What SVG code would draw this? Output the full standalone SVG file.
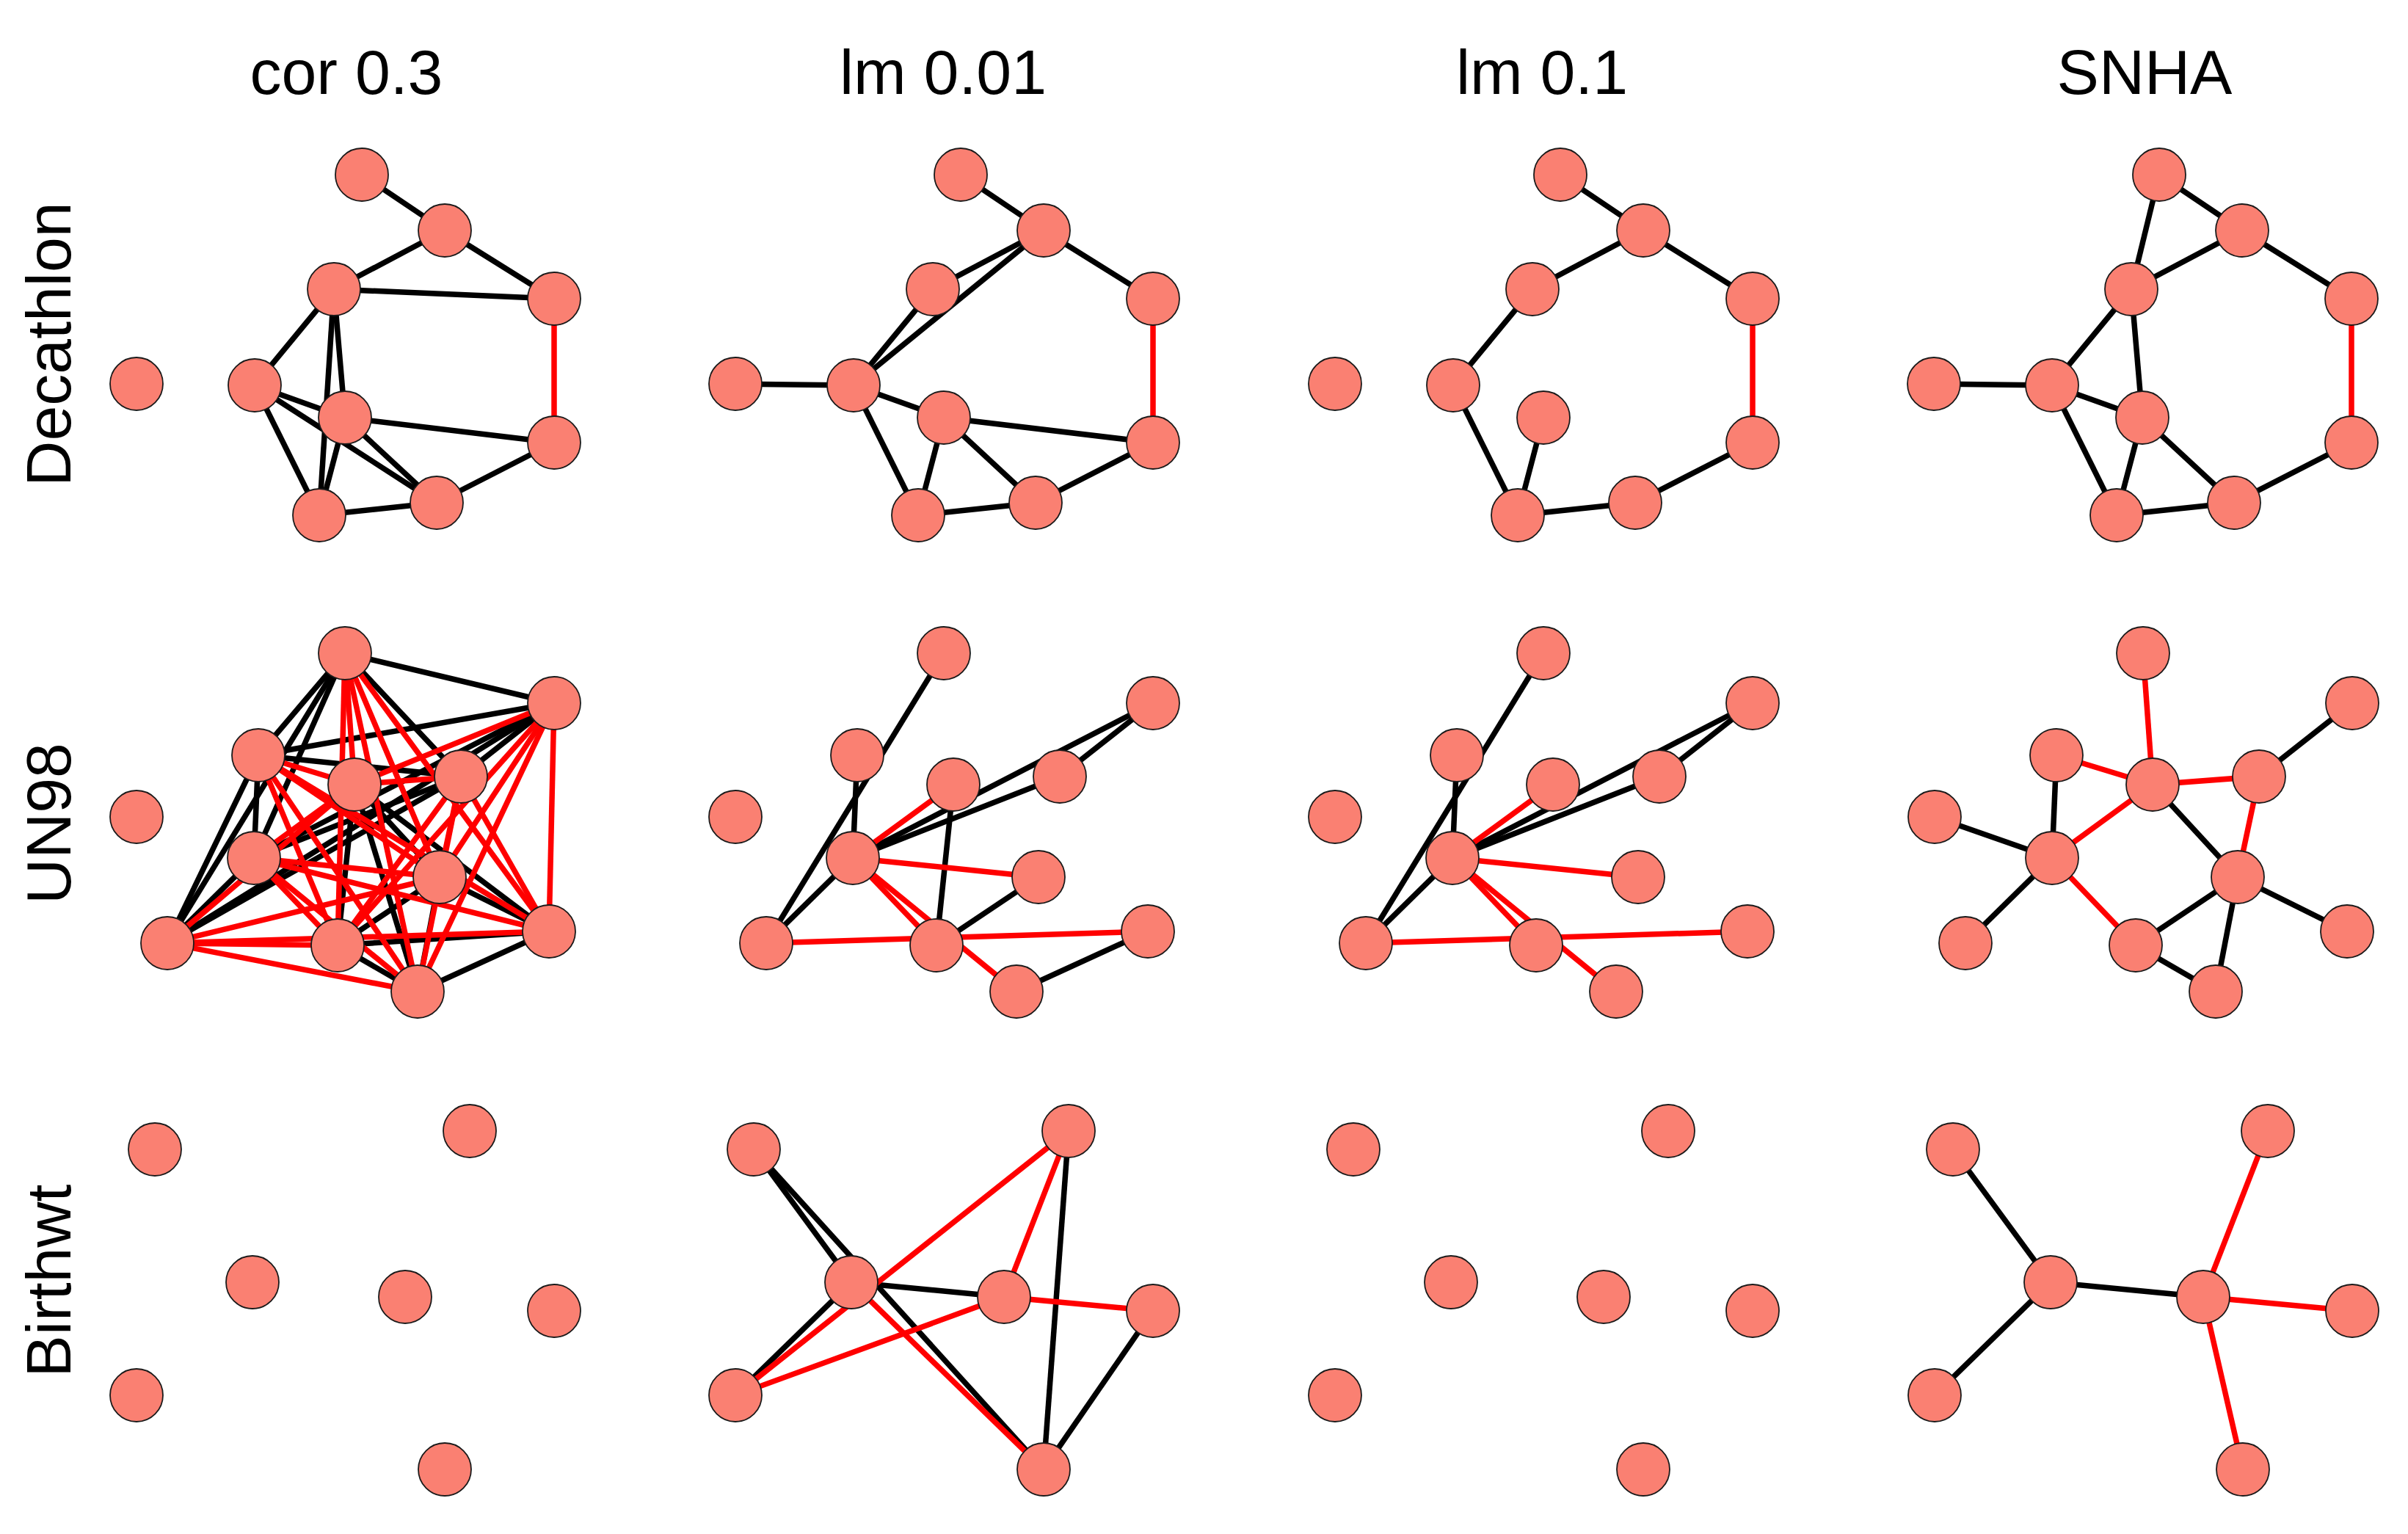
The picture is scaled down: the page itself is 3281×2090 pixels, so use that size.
<svg xmlns="http://www.w3.org/2000/svg" width="3281" height="2090" viewBox="0 0 3281 2090">
<style>
text{font-family:"Liberation Sans",Arial,sans-serif;font-size:86px;fill:#000}
.k line{stroke:#000;stroke-width:7.5}
.r line{stroke:#FF0000;stroke-width:7.5}
circle{fill:#FA8072;stroke:#1a1a1a;stroke-width:1.8}
</style>
<rect width="3281" height="2090" fill="#fff"/>
<g id="titles">
<text x="472" y="128" text-anchor="middle">cor 0.3</text>
<text x="1285" y="128" text-anchor="middle">lm 0.01</text>
<text x="2101" y="128" text-anchor="middle">lm 0.1</text>
<text x="2922" y="128" text-anchor="middle">SNHA</text>
<text transform="translate(96,469) rotate(-90)" text-anchor="middle">Decathlon</text>
<text transform="translate(96,1122) rotate(-90)" text-anchor="middle">UN98</text>
<text transform="translate(96,1745) rotate(-90)" text-anchor="middle">Birthwt</text>
</g>

<!-- Row 1: Decathlon -->
<g id="dec-cor">
<g id="dec-cor-edges">
<g class="k">
<line x1="493" y1="238" x2="606" y2="314"/><line x1="606" y1="314" x2="455" y2="394"/><line x1="606" y1="314" x2="755" y2="407"/><line x1="455" y1="394" x2="755" y2="407"/><line x1="455" y1="394" x2="347" y2="525"/><line x1="455" y1="394" x2="435" y2="702"/><line x1="455" y1="394" x2="470" y2="569"/><line x1="347" y1="525" x2="470" y2="569"/><line x1="347" y1="525" x2="595" y2="685"/><line x1="347" y1="525" x2="435" y2="702"/><line x1="470" y1="569" x2="755" y2="603"/><line x1="470" y1="569" x2="435" y2="702"/><line x1="470" y1="569" x2="595" y2="685"/><line x1="435" y1="702" x2="595" y2="685"/><line x1="755" y1="603" x2="595" y2="685"/>
</g>
<g class="r"><line x1="755" y1="407" x2="755" y2="603"/></g>
</g>
<g id="dec-cor-A"><circle cx="493" cy="238" r="36"/></g>
<g id="dec-cor-B"><circle cx="606" cy="314" r="36"/></g>
<g id="dec-cor-C"><circle cx="455" cy="394" r="36"/></g>
<g id="dec-cor-D"><circle cx="755" cy="407" r="36"/></g>
<g id="dec-cor-E"><circle cx="186" cy="523" r="36"/></g>
<g id="dec-cor-F"><circle cx="347" cy="525" r="36"/></g>
<g id="dec-cor-G"><circle cx="470" cy="569" r="36"/></g>
<g id="dec-cor-H"><circle cx="755" cy="603" r="36"/></g>
<g id="dec-cor-I"><circle cx="435" cy="702" r="36"/></g>
<g id="dec-cor-J"><circle cx="595" cy="685" r="36"/></g>
</g>

<g id="dec-lm001" transform="translate(816,0)">
<g id="dec-lm001-edges">
<g class="k">
<line x1="493" y1="238" x2="606" y2="314"/><line x1="606" y1="314" x2="455" y2="394"/><line x1="606" y1="314" x2="347" y2="525"/><line x1="606" y1="314" x2="755" y2="407"/><line x1="455" y1="394" x2="347" y2="525"/><line x1="186" y1="523" x2="347" y2="525"/><line x1="347" y1="525" x2="470" y2="569"/><line x1="347" y1="525" x2="435" y2="702"/><line x1="470" y1="569" x2="755" y2="603"/><line x1="470" y1="569" x2="435" y2="702"/><line x1="470" y1="569" x2="595" y2="685"/><line x1="435" y1="702" x2="595" y2="685"/><line x1="755" y1="603" x2="595" y2="685"/>
</g>
<g class="r"><line x1="755" y1="407" x2="755" y2="603"/></g>
</g>
<g id="dec-lm001-A"><circle cx="493" cy="238" r="36"/></g>
<g id="dec-lm001-B"><circle cx="606" cy="314" r="36"/></g>
<g id="dec-lm001-C"><circle cx="455" cy="394" r="36"/></g>
<g id="dec-lm001-D"><circle cx="755" cy="407" r="36"/></g>
<g id="dec-lm001-E"><circle cx="186" cy="523" r="36"/></g>
<g id="dec-lm001-F"><circle cx="347" cy="525" r="36"/></g>
<g id="dec-lm001-G"><circle cx="470" cy="569" r="36"/></g>
<g id="dec-lm001-H"><circle cx="755" cy="603" r="36"/></g>
<g id="dec-lm001-I"><circle cx="435" cy="702" r="36"/></g>
<g id="dec-lm001-J"><circle cx="595" cy="685" r="36"/></g>
</g>

<g id="dec-lm01" transform="translate(1633,0)">
<g id="dec-lm01-edges">
<g class="k">
<line x1="493" y1="238" x2="606" y2="314"/><line x1="606" y1="314" x2="455" y2="394"/><line x1="606" y1="314" x2="755" y2="407"/><line x1="455" y1="394" x2="347" y2="525"/><line x1="347" y1="525" x2="435" y2="702"/><line x1="470" y1="569" x2="435" y2="702"/><line x1="435" y1="702" x2="595" y2="685"/><line x1="755" y1="603" x2="595" y2="685"/>
</g>
<g class="r"><line x1="755" y1="407" x2="755" y2="603"/></g>
</g>
<g id="dec-lm01-A"><circle cx="493" cy="238" r="36"/></g>
<g id="dec-lm01-B"><circle cx="606" cy="314" r="36"/></g>
<g id="dec-lm01-C"><circle cx="455" cy="394" r="36"/></g>
<g id="dec-lm01-D"><circle cx="755" cy="407" r="36"/></g>
<g id="dec-lm01-E"><circle cx="186" cy="523" r="36"/></g>
<g id="dec-lm01-F"><circle cx="347" cy="525" r="36"/></g>
<g id="dec-lm01-G"><circle cx="470" cy="569" r="36"/></g>
<g id="dec-lm01-H"><circle cx="755" cy="603" r="36"/></g>
<g id="dec-lm01-I"><circle cx="435" cy="702" r="36"/></g>
<g id="dec-lm01-J"><circle cx="595" cy="685" r="36"/></g>
</g>

<g id="dec-snha" transform="translate(2449,0)">
<g id="dec-snha-edges">
<g class="k">
<line x1="493" y1="238" x2="606" y2="314"/><line x1="493" y1="238" x2="455" y2="394"/><line x1="606" y1="314" x2="455" y2="394"/><line x1="606" y1="314" x2="755" y2="407"/><line x1="455" y1="394" x2="347" y2="525"/><line x1="455" y1="394" x2="470" y2="569"/><line x1="186" y1="523" x2="347" y2="525"/><line x1="347" y1="525" x2="470" y2="569"/><line x1="347" y1="525" x2="435" y2="702"/><line x1="470" y1="569" x2="435" y2="702"/><line x1="470" y1="569" x2="595" y2="685"/><line x1="435" y1="702" x2="595" y2="685"/><line x1="755" y1="603" x2="595" y2="685"/>
</g>
<g class="r"><line x1="755" y1="407" x2="755" y2="603"/></g>
</g>
<g id="dec-snha-A"><circle cx="493" cy="238" r="36"/></g>
<g id="dec-snha-B"><circle cx="606" cy="314" r="36"/></g>
<g id="dec-snha-C"><circle cx="455" cy="394" r="36"/></g>
<g id="dec-snha-D"><circle cx="755" cy="407" r="36"/></g>
<g id="dec-snha-E"><circle cx="186" cy="523" r="36"/></g>
<g id="dec-snha-F"><circle cx="347" cy="525" r="36"/></g>
<g id="dec-snha-G"><circle cx="470" cy="569" r="36"/></g>
<g id="dec-snha-H"><circle cx="755" cy="603" r="36"/></g>
<g id="dec-snha-I"><circle cx="435" cy="702" r="36"/></g>
<g id="dec-snha-J"><circle cx="595" cy="685" r="36"/></g>
</g>

<!-- Row 2: UN98 -->
<g id="un-cor">
<g id="un-cor-edges">
<g class="k">
<line x1="470" y1="890" x2="755" y2="958"/><line x1="470" y1="890" x2="352" y2="1029"/><line x1="470" y1="890" x2="628" y2="1058"/><line x1="470" y1="890" x2="346" y2="1169"/><line x1="470" y1="890" x2="228" y2="1285"/><line x1="755" y1="958" x2="352" y2="1029"/><line x1="755" y1="958" x2="628" y2="1058"/><line x1="755" y1="958" x2="346" y2="1169"/><line x1="755" y1="958" x2="228" y2="1285"/><line x1="352" y1="1029" x2="628" y2="1058"/><line x1="352" y1="1029" x2="346" y2="1169"/><line x1="352" y1="1029" x2="228" y2="1285"/><line x1="628" y1="1058" x2="346" y2="1169"/><line x1="628" y1="1058" x2="228" y2="1285"/><line x1="346" y1="1169" x2="228" y2="1285"/>
<line x1="483" y1="1069" x2="599" y2="1195"/><line x1="483" y1="1069" x2="460" y2="1288"/><line x1="483" y1="1069" x2="748" y2="1269"/><line x1="483" y1="1069" x2="569" y2="1351"/><line x1="599" y1="1195" x2="460" y2="1288"/><line x1="599" y1="1195" x2="748" y2="1269"/><line x1="599" y1="1195" x2="569" y2="1351"/><line x1="460" y1="1288" x2="748" y2="1269"/><line x1="460" y1="1288" x2="569" y2="1351"/><line x1="748" y1="1269" x2="569" y2="1351"/>
</g>
<g class="r">
<line x1="470" y1="890" x2="483" y2="1069"/><line x1="470" y1="890" x2="599" y2="1195"/><line x1="470" y1="890" x2="460" y2="1288"/><line x1="470" y1="890" x2="748" y2="1269"/><line x1="470" y1="890" x2="569" y2="1351"/>
<line x1="755" y1="958" x2="483" y2="1069"/><line x1="755" y1="958" x2="599" y2="1195"/><line x1="755" y1="958" x2="460" y2="1288"/><line x1="755" y1="958" x2="748" y2="1269"/><line x1="755" y1="958" x2="569" y2="1351"/>
<line x1="352" y1="1029" x2="483" y2="1069"/><line x1="352" y1="1029" x2="599" y2="1195"/><line x1="352" y1="1029" x2="460" y2="1288"/><line x1="352" y1="1029" x2="748" y2="1269"/><line x1="352" y1="1029" x2="569" y2="1351"/>
<line x1="628" y1="1058" x2="483" y2="1069"/><line x1="628" y1="1058" x2="599" y2="1195"/><line x1="628" y1="1058" x2="460" y2="1288"/><line x1="628" y1="1058" x2="748" y2="1269"/><line x1="628" y1="1058" x2="569" y2="1351"/>
<line x1="346" y1="1169" x2="483" y2="1069"/><line x1="346" y1="1169" x2="599" y2="1195"/><line x1="346" y1="1169" x2="460" y2="1288"/><line x1="346" y1="1169" x2="748" y2="1269"/><line x1="346" y1="1169" x2="569" y2="1351"/>
<line x1="228" y1="1285" x2="483" y2="1069"/><line x1="228" y1="1285" x2="599" y2="1195"/><line x1="228" y1="1285" x2="460" y2="1288"/><line x1="228" y1="1285" x2="748" y2="1269"/><line x1="228" y1="1285" x2="569" y2="1351"/>
</g>
</g>
<g id="un-cor-a"><circle cx="470" cy="890" r="36"/></g>
<g id="un-cor-b"><circle cx="755" cy="958" r="36"/></g>
<g id="un-cor-c"><circle cx="352" cy="1029" r="36"/></g>
<g id="un-cor-d"><circle cx="483" cy="1069" r="36"/></g>
<g id="un-cor-e"><circle cx="628" cy="1058" r="36"/></g>
<g id="un-cor-f"><circle cx="186" cy="1113" r="36"/></g>
<g id="un-cor-g"><circle cx="346" cy="1169" r="36"/></g>
<g id="un-cor-h"><circle cx="599" cy="1195" r="36"/></g>
<g id="un-cor-i"><circle cx="228" cy="1285" r="36"/></g>
<g id="un-cor-j"><circle cx="460" cy="1288" r="36"/></g>
<g id="un-cor-k"><circle cx="748" cy="1269" r="36"/></g>
<g id="un-cor-l"><circle cx="569" cy="1351" r="36"/></g>
</g>

<g id="un-lm001" transform="translate(816,0)">
<g id="un-lm001-edges">
<g class="k">
<line x1="470" y1="890" x2="228" y2="1285"/><line x1="352" y1="1029" x2="346" y2="1169"/><line x1="346" y1="1169" x2="228" y2="1285"/><line x1="346" y1="1169" x2="755" y2="958"/><line x1="346" y1="1169" x2="628" y2="1058"/><line x1="628" y1="1058" x2="755" y2="958"/><line x1="483" y1="1069" x2="460" y2="1288"/><line x1="599" y1="1195" x2="460" y2="1288"/><line x1="748" y1="1269" x2="569" y2="1351"/>
</g>
<g class="r">
<line x1="346" y1="1169" x2="483" y2="1069"/><line x1="346" y1="1169" x2="599" y2="1195"/><line x1="346" y1="1169" x2="460" y2="1288"/><line x1="346" y1="1169" x2="569" y2="1351"/><line x1="228" y1="1285" x2="748" y2="1269"/>
</g>
</g>
<g id="un-lm001-a"><circle cx="470" cy="890" r="36"/></g>
<g id="un-lm001-b"><circle cx="755" cy="958" r="36"/></g>
<g id="un-lm001-c"><circle cx="352" cy="1029" r="36"/></g>
<g id="un-lm001-d"><circle cx="483" cy="1069" r="36"/></g>
<g id="un-lm001-e"><circle cx="628" cy="1058" r="36"/></g>
<g id="un-lm001-f"><circle cx="186" cy="1113" r="36"/></g>
<g id="un-lm001-g"><circle cx="346" cy="1169" r="36"/></g>
<g id="un-lm001-h"><circle cx="599" cy="1195" r="36"/></g>
<g id="un-lm001-i"><circle cx="228" cy="1285" r="36"/></g>
<g id="un-lm001-j"><circle cx="460" cy="1288" r="36"/></g>
<g id="un-lm001-k"><circle cx="748" cy="1269" r="36"/></g>
<g id="un-lm001-l"><circle cx="569" cy="1351" r="36"/></g>
</g>

<g id="un-lm01" transform="translate(1633,0)">
<g id="un-lm01-edges">
<g class="k">
<line x1="470" y1="890" x2="228" y2="1285"/><line x1="352" y1="1029" x2="346" y2="1169"/><line x1="346" y1="1169" x2="228" y2="1285"/><line x1="346" y1="1169" x2="755" y2="958"/><line x1="346" y1="1169" x2="628" y2="1058"/><line x1="628" y1="1058" x2="755" y2="958"/>
</g>
<g class="r">
<line x1="346" y1="1169" x2="483" y2="1069"/><line x1="346" y1="1169" x2="599" y2="1195"/><line x1="346" y1="1169" x2="460" y2="1288"/><line x1="346" y1="1169" x2="569" y2="1351"/><line x1="228" y1="1285" x2="748" y2="1269"/>
</g>
</g>
<g id="un-lm01-a"><circle cx="470" cy="890" r="36"/></g>
<g id="un-lm01-b"><circle cx="755" cy="958" r="36"/></g>
<g id="un-lm01-c"><circle cx="352" cy="1029" r="36"/></g>
<g id="un-lm01-d"><circle cx="483" cy="1069" r="36"/></g>
<g id="un-lm01-e"><circle cx="628" cy="1058" r="36"/></g>
<g id="un-lm01-f"><circle cx="186" cy="1113" r="36"/></g>
<g id="un-lm01-g"><circle cx="346" cy="1169" r="36"/></g>
<g id="un-lm01-h"><circle cx="599" cy="1195" r="36"/></g>
<g id="un-lm01-i"><circle cx="228" cy="1285" r="36"/></g>
<g id="un-lm01-j"><circle cx="460" cy="1288" r="36"/></g>
<g id="un-lm01-k"><circle cx="748" cy="1269" r="36"/></g>
<g id="un-lm01-l"><circle cx="569" cy="1351" r="36"/></g>
</g>

<g id="un-snha" transform="translate(2450,0)">
<g id="un-snha-edges">
<g class="k">
<line x1="628" y1="1058" x2="755" y2="958"/><line x1="352" y1="1029" x2="346" y2="1169"/><line x1="186" y1="1113" x2="346" y2="1169"/><line x1="346" y1="1169" x2="228" y2="1285"/><line x1="483" y1="1069" x2="599" y2="1195"/><line x1="599" y1="1195" x2="460" y2="1288"/><line x1="599" y1="1195" x2="748" y2="1269"/><line x1="599" y1="1195" x2="569" y2="1351"/><line x1="460" y1="1288" x2="569" y2="1351"/>
</g>
<g class="r">
<line x1="470" y1="890" x2="483" y2="1069"/><line x1="352" y1="1029" x2="483" y2="1069"/><line x1="483" y1="1069" x2="628" y2="1058"/><line x1="483" y1="1069" x2="346" y2="1169"/><line x1="628" y1="1058" x2="599" y2="1195"/><line x1="346" y1="1169" x2="460" y2="1288"/>
</g>
</g>
<g id="un-snha-a"><circle cx="470" cy="890" r="36"/></g>
<g id="un-snha-b"><circle cx="755" cy="958" r="36"/></g>
<g id="un-snha-c"><circle cx="352" cy="1029" r="36"/></g>
<g id="un-snha-d"><circle cx="483" cy="1069" r="36"/></g>
<g id="un-snha-e"><circle cx="628" cy="1058" r="36"/></g>
<g id="un-snha-f"><circle cx="186" cy="1113" r="36"/></g>
<g id="un-snha-g"><circle cx="346" cy="1169" r="36"/></g>
<g id="un-snha-h"><circle cx="599" cy="1195" r="36"/></g>
<g id="un-snha-i"><circle cx="228" cy="1285" r="36"/></g>
<g id="un-snha-j"><circle cx="460" cy="1288" r="36"/></g>
<g id="un-snha-k"><circle cx="748" cy="1269" r="36"/></g>
<g id="un-snha-l"><circle cx="569" cy="1351" r="36"/></g>
</g>

<!-- Row 3: Birthwt -->
<g id="bw-cor">
<g id="bw-cor-edges"></g>
<g id="bw-cor-p"><circle cx="211" cy="1566" r="36"/></g>
<g id="bw-cor-q"><circle cx="640" cy="1541" r="36"/></g>
<g id="bw-cor-r"><circle cx="344" cy="1747" r="36"/></g>
<g id="bw-cor-s"><circle cx="552" cy="1767" r="36"/></g>
<g id="bw-cor-t"><circle cx="755" cy="1786" r="36"/></g>
<g id="bw-cor-u"><circle cx="186" cy="1901" r="36"/></g>
<g id="bw-cor-v"><circle cx="606" cy="2002" r="36"/></g>
</g>

<g id="bw-lm001" transform="translate(816,0)">
<g id="bw-lm001-edges">
<g class="k">
<line x1="211" y1="1566" x2="344" y2="1747"/><line x1="211" y1="1566" x2="606" y2="2002"/><line x1="186" y1="1901" x2="344" y2="1747"/><line x1="344" y1="1747" x2="552" y2="1767"/><line x1="640" y1="1541" x2="606" y2="2002"/><line x1="755" y1="1786" x2="606" y2="2002"/>
</g>
<g class="r">
<line x1="344" y1="1747" x2="606" y2="2002"/><line x1="186" y1="1901" x2="640" y2="1541"/><line x1="186" y1="1901" x2="552" y2="1767"/><line x1="552" y1="1767" x2="640" y2="1541"/><line x1="552" y1="1767" x2="755" y2="1786"/>
</g>
</g>
<g id="bw-lm001-p"><circle cx="211" cy="1566" r="36"/></g>
<g id="bw-lm001-q"><circle cx="640" cy="1541" r="36"/></g>
<g id="bw-lm001-r"><circle cx="344" cy="1747" r="36"/></g>
<g id="bw-lm001-s"><circle cx="552" cy="1767" r="36"/></g>
<g id="bw-lm001-t"><circle cx="755" cy="1786" r="36"/></g>
<g id="bw-lm001-u"><circle cx="186" cy="1901" r="36"/></g>
<g id="bw-lm001-v"><circle cx="606" cy="2002" r="36"/></g>
</g>

<g id="bw-lm01" transform="translate(1633,0)">
<g id="bw-lm01-edges"></g>
<g id="bw-lm01-p"><circle cx="211" cy="1566" r="36"/></g>
<g id="bw-lm01-q"><circle cx="640" cy="1541" r="36"/></g>
<g id="bw-lm01-r"><circle cx="344" cy="1747" r="36"/></g>
<g id="bw-lm01-s"><circle cx="552" cy="1767" r="36"/></g>
<g id="bw-lm01-t"><circle cx="755" cy="1786" r="36"/></g>
<g id="bw-lm01-u"><circle cx="186" cy="1901" r="36"/></g>
<g id="bw-lm01-v"><circle cx="606" cy="2002" r="36"/></g>
</g>

<g id="bw-snha" transform="translate(2450,0)">
<g id="bw-snha-edges">
<g class="k">
<line x1="211" y1="1566" x2="344" y2="1747"/><line x1="186" y1="1901" x2="344" y2="1747"/><line x1="344" y1="1747" x2="552" y2="1767"/>
</g>
<g class="r">
<line x1="552" y1="1767" x2="640" y2="1541"/><line x1="552" y1="1767" x2="755" y2="1786"/><line x1="552" y1="1767" x2="606" y2="2002"/>
</g>
</g>
<g id="bw-snha-p"><circle cx="211" cy="1566" r="36"/></g>
<g id="bw-snha-q"><circle cx="640" cy="1541" r="36"/></g>
<g id="bw-snha-r"><circle cx="344" cy="1747" r="36"/></g>
<g id="bw-snha-s"><circle cx="552" cy="1767" r="36"/></g>
<g id="bw-snha-t"><circle cx="755" cy="1786" r="36"/></g>
<g id="bw-snha-u"><circle cx="186" cy="1901" r="36"/></g>
<g id="bw-snha-v"><circle cx="606" cy="2002" r="36"/></g>
</g>
</svg>
